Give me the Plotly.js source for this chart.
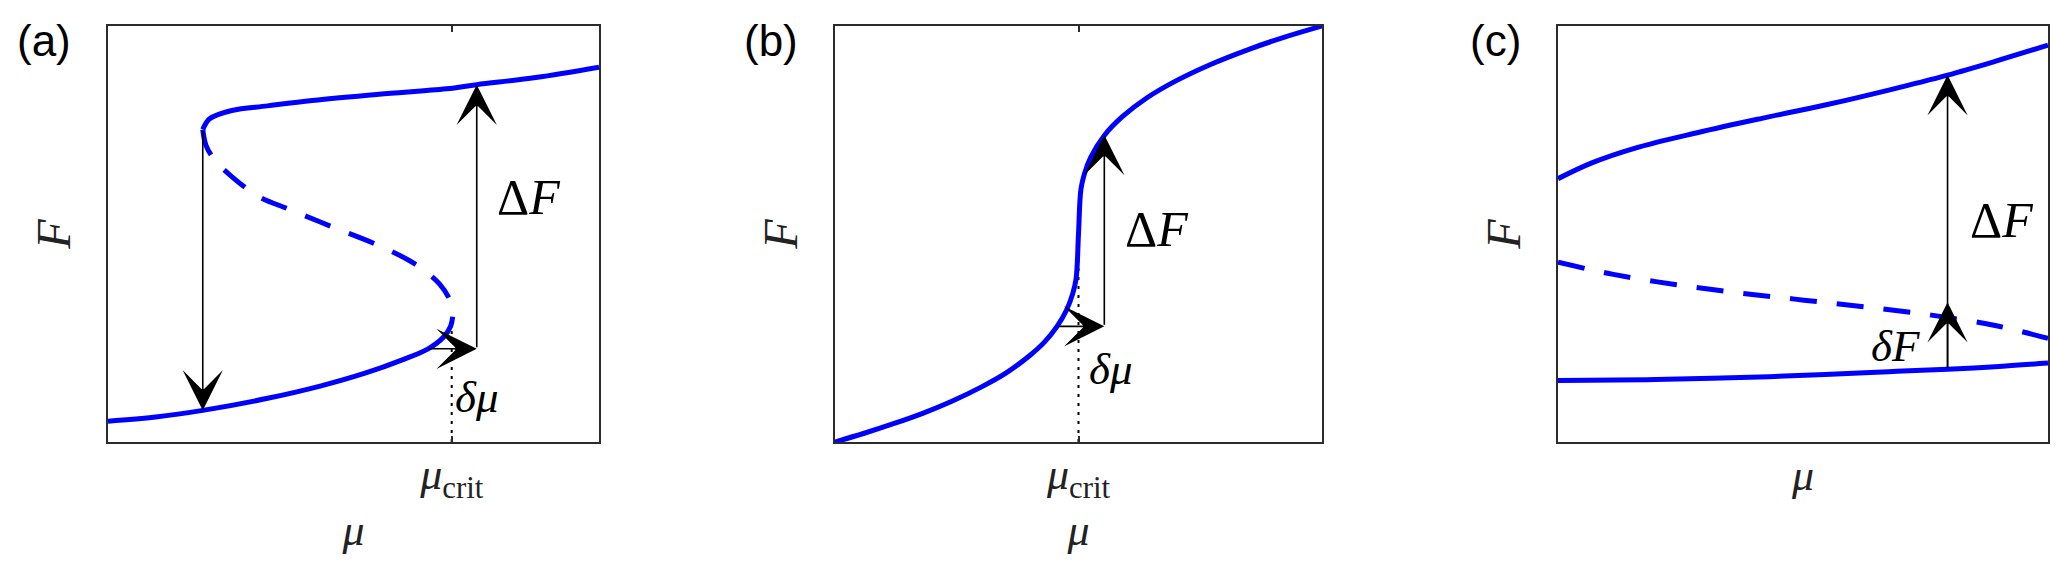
<!DOCTYPE html>
<html>
<head>
<meta charset="utf-8">
<script src="https://cdn.plot.ly/plotly-3.0.1.min.js"></script>
<style>html, body { margin: 0; padding: 0; background: #fff; }</style>
</head>
<body>
<div id="chart" style="width:2067px;height:570px"></div>
<script>
/* global Plotly */

// (a) S-shaped curve: upper stable, middle unstable, lower stable branch
const aUpperX = [0.193, 0.207, 0.252, 0.325, 0.416, 0.552, 0.689, 0.751, 0.871, 1.0];
const aUpperY = [0.751, 0.777, 0.797, 0.808, 0.821, 0.836, 0.849, 0.859, 0.876, 0.901];
const aMidX = [0.193, 0.200, 0.218, 0.252, 0.307, 0.370, 0.461, 0.552, 0.625, 0.675, 0.698, 0.702];
const aMidY = [0.751, 0.712, 0.677, 0.638, 0.590, 0.559, 0.515, 0.472, 0.428, 0.380, 0.336, 0.301];
const aLowerX = [0.702, 0.698, 0.684, 0.652, 0.598, 0.525, 0.434, 0.325, 0.193, 0.097, 0.0];
const aLowerY = [0.301, 0.279, 0.253, 0.224, 0.197, 0.166, 0.135, 0.105, 0.076, 0.060, 0.050];

// (b) steep but single-valued curve
const bCurveX = [0.0, 0.06, 0.12, 0.18, 0.24, 0.30, 0.35, 0.40, 0.43, 0.456, 0.475, 0.488, 0.495, 0.5,
    0.505, 0.512, 0.525, 0.553, 0.59, 0.64, 0.70, 0.77, 0.85, 0.92, 1.0];
const bCurveY = [0.0, 0.021, 0.044, 0.069, 0.098, 0.132, 0.165, 0.208, 0.240, 0.278, 0.316, 0.356, 0.392, 0.5,
    0.608, 0.644, 0.684, 0.737, 0.782, 0.827, 0.868, 0.907, 0.944, 0.972, 1.0];

// (c) two stable branches and an unstable one between them
const cUpperX = [0.0, 0.069, 0.156, 0.286, 0.416, 0.545, 0.675, 0.795, 0.892, 1.0];
const cUpperY = [0.633, 0.671, 0.706, 0.744, 0.778, 0.810, 0.846, 0.882, 0.915, 0.954];
const cMidX = [0.0, 0.113, 0.242, 0.372, 0.502, 0.632, 0.762, 0.892, 1.0];
const cMidY = [0.432, 0.403, 0.378, 0.358, 0.341, 0.324, 0.305, 0.280, 0.249];
const cLowerX = [0.0, 0.199, 0.372, 0.545, 0.675, 0.795, 0.892, 1.0];
const cLowerY = [0.148, 0.150, 0.155, 0.162, 0.169, 0.175, 0.181, 0.190];

// critical parameter values (ticks) and arrows [x0, y0, x1, y1]
const critA = 0.70;
const critB = 0.50;
const critAF = 0.30;
const critBF = 0.50;
const arrowsA = [[0.193, 0.751, 0.193, 0.076], [0.751, 0.224, 0.751, 0.859], [0.652, 0.224, 0.751, 0.224]];
const arrowsB = [[0.553, 0.278, 0.553, 0.738], [0.456, 0.278, 0.553, 0.278]];
const arrowsC = [[0.795, 0.175, 0.795, 0.882], [0.795, 0.175, 0.795, 0.336]];

// text labels [x, y, text, size]
const labelsA = [[0.857, 0.590, 'Δ<i>F</i>', 50], [0.751, 0.109, '<i>δμ</i>', 45]];
const labelsB = [[0.660, 0.513, 'Δ<i>F</i>', 50], [0.566, 0.175, '<i>δμ</i>', 45]];
const labelsC = [[0.905, 0.533, 'Δ<i>F</i>', 50], [0.688, 0.231, '<i>δF</i>', 45]];
const panelTags = ['(a)', '(b)', '(c)'];

const W = 2067;
const H = 570;
const SERIF = 'Liberation Serif, DejaVu Serif, serif';
const AXIS_COLOR = '#2b2b2b';

function buildCurve(x, y, n, dashed) {
    return {
        x, y,
        xaxis: 'x' + (n === 1 ? '' : n),
        yaxis: 'y' + (n === 1 ? '' : n),
        mode: 'lines',
        line: { color: '#0000ff', width: 5, shape: 'spline', smoothing: 1, dash: dashed ? '27px,20px' : 'solid' },
        hoverinfo: 'skip'
    };
}

function buildDotted(xc, yTop, n) {
    return {
        x: [xc, xc], y: [0, yTop],
        xaxis: 'x' + (n === 1 ? '' : n),
        yaxis: 'y' + (n === 1 ? '' : n),
        mode: 'lines',
        line: { color: '#000', width: 2, dash: '3px,6px' },
        hoverinfo: 'skip'
    };
}

function buildArrow([x0, y0, x1, y1], n) {
    const s = n === 1 ? '' : n;
    return {
        x: x1, y: y1, ax: x0, ay: y0,
        xref: 'x' + s, yref: 'y' + s, axref: 'x' + s, ayref: 'y' + s,
        text: '', showarrow: true,
        arrowhead: 3, arrowsize: 4.2, arrowwidth: 1.6, arrowcolor: '#000', standoff: 0
    };
}

function buildLabel([x, y, text, size], n) {
    const s = n === 1 ? '' : n;
    return {
        x, y, text, xref: 'x' + s, yref: 'y' + s, showarrow: false,
        font: { family: SERIF, size, color: '#000' }
    };
}

function buildXAxis(domain, crit) {
    const axis = {
        domain, range: [0, 1], fixedrange: true,
        showgrid: false, zeroline: false,
        showline: true, linecolor: AXIS_COLOR, linewidth: 2,
        mirror: crit === null ? true : 'ticks',
        title: { text: '<i>μ</i>', font: { family: SERIF, size: 44, color: '#222' }, standoff: crit === null ? 16 : 10 }
    };
    if (crit !== null) {
        axis.ticks = 'inside';
        axis.ticklen = 6;
        axis.tickwidth = 2;
        axis.tickcolor = AXIS_COLOR;
        axis.tickvals = [crit];
        axis.ticktext = ['<i>μ</i><sub>crit</sub>'];
        axis.tickfont = { family: SERIF, size: 44, color: '#222' };
        axis.ticklabelstandoff = -8;
    } else {
        axis.ticks = '';
        axis.showticklabels = false;
    }
    return axis;
}

function buildYAxis(anchor) {
    return {
        domain: [1 - 442 / H, 1 - 26 / H], range: [0, 1], fixedrange: true, anchor,
        showgrid: false, zeroline: false, ticks: '', showticklabels: false,
        showline: true, linecolor: AXIS_COLOR, linewidth: 2, mirror: true,
        title: { text: '<i>F</i>', font: { family: SERIF, size: 48, color: '#222' }, standoff: 20 }
    };
}

const data = [
    buildDotted(critA, critAF, 1),
    buildCurve(aUpperX, aUpperY, 1, false),
    buildCurve(aMidX, aMidY, 1, true),
    buildCurve(aLowerX, aLowerY, 1, false),
    buildDotted(critB, critBF, 2),
    buildCurve(bCurveX, bCurveY, 2, false),
    buildCurve(cUpperX, cUpperY, 3, false),
    buildCurve(cMidX, cMidY, 3, true),
    buildCurve(cLowerX, cLowerY, 3, false)
];

const tagX = [44, 771, 1495];
const annotations = [
    ...arrowsA.map(a => buildArrow(a, 1)),
    ...arrowsB.map(a => buildArrow(a, 2)),
    ...arrowsC.map(a => buildArrow(a, 3)),
    ...labelsA.map(l => buildLabel(l, 1)),
    ...labelsB.map(l => buildLabel(l, 2)),
    ...labelsC.map(l => buildLabel(l, 3)),
    ...panelTags.map((t, i) => ({
        x: tagX[i] / W, y: 1 - 40 / H, xref: 'paper', yref: 'paper',
        text: t, showarrow: false, xanchor: 'center', yanchor: 'middle',
        font: { family: 'Liberation Sans, Arial, sans-serif', size: 44, color: '#000' }
    }))
];

const layout = {
    width: W,
    height: H,
    margin: { l: 0, r: 0, t: 0, b: 0 },
    paper_bgcolor: '#fff',
    plot_bgcolor: '#fff',
    showlegend: false,
    xaxis: buildXAxis([108 / W, 599 / W], critA),
    yaxis: buildYAxis('x'),
    xaxis2: Object.assign(buildXAxis([835 / W, 1322 / W], critB), { anchor: 'y2' }),
    yaxis2: buildYAxis('x2'),
    xaxis3: Object.assign(buildXAxis([1558 / W, 2048 / W], null), { anchor: 'y3' }),
    yaxis3: buildYAxis('x3'),
    annotations
};

Plotly.newPlot('chart', data, layout, { displayModeBar: false, staticPlot: true });
</script>
</body>
</html>
